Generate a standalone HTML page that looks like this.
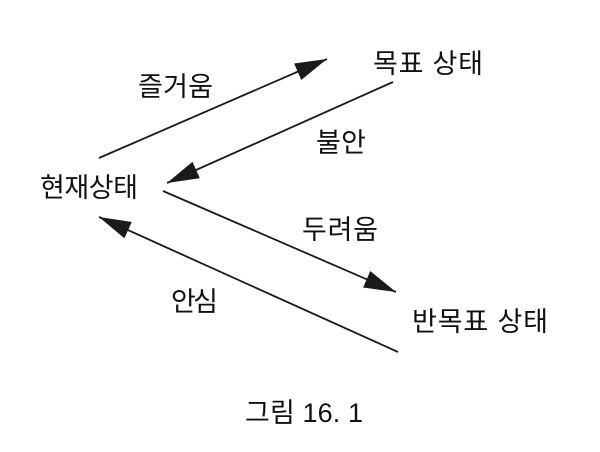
<!DOCTYPE html>
<html><head><meta charset="utf-8"><style>
html,body{margin:0;padding:0;background:#fff;}
svg{display:block;}
text{font-family:"Liberation Sans","Noto Sans CJK KR",sans-serif;font-size:27px;fill:#111;dominant-baseline:central;}
</style></head><body>
<svg width="600" height="452" viewBox="0 0 600 452" xmlns="http://www.w3.org/2000/svg">
<defs>
<marker id="a" markerWidth="32" markerHeight="18" refX="32" refY="9" orient="auto" markerUnits="userSpaceOnUse">
<path d="M0,0 L32,9 L0,18 Z" fill="#1a1a1a"/>
</marker>
</defs>
<g stroke="#1a1a1a" stroke-width="1.8" fill="none">
<line x1="99" y1="158" x2="327" y2="59" marker-end="url(#a)"/>
<line x1="393" y1="82" x2="167" y2="183" marker-end="url(#a)"/>
<line x1="163" y1="191" x2="396" y2="292" marker-end="url(#a)"/>
<line x1="398" y1="352" x2="99" y2="217" marker-end="url(#a)"/>
</g>
<text x="373" y="64" textLength="110">목표 상태</text>
<text x="138" y="87" textLength="75">즐거움</text>
<text x="316" y="143" textLength="50">불안</text>
<text x="40" y="188" textLength="98">현재상태</text>
<text x="302" y="230" textLength="76">두려움</text>
<text x="171" y="302" textLength="47">안심</text>
<text x="412" y="322" textLength="136">반목표 상태</text>
<text x="245" y="413" textLength="118">그림 16. 1</text>
</svg>
</body></html>
